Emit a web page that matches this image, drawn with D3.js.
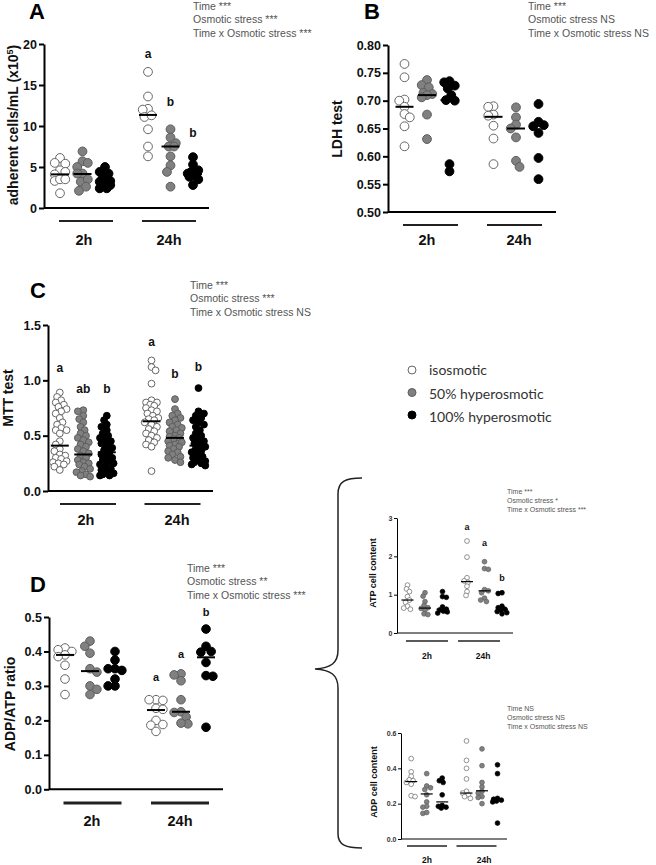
<!DOCTYPE html>
<html><head><meta charset="utf-8">
<script src="https://cdn.jsdelivr.net/npm/d3@7"></script>
<style>body{margin:0;background:#fff}svg{display:block}svg text{font-family:"Liberation Sans",Arial,sans-serif}</style>
</head><body>
<script>
// ---------- DATA ----------
const timeGroups = ["2h", "24h"];
const treatments = ["isosmotic", "50% hyperosmotic", "100% hyperosmotic"];
// columns: 2h iso, 2h 50%, 2h 100%, 24h iso, 24h 50%, 24h 100%
const adherentValues = [
  [6.1, 5.4, 5.5, 4.6, 4.4, 4.1, 3.3, 3.5, 3.5, 1.8],
  [6.9, 5.7, 5.5, 5.0, 4.2, 4.2, 3.2, 3.5, 2.1, 2.6],
  [5.0, 4.4, 4.2, 3.8, 3.3, 3.2, 2.9, 2.8, 2.4, 2.4],
  [16.6, 13.6, 12.1, 12.0, 11.1, 11.3, 9.6, 7.5, 6.3],
  [9.6, 8.6, 7.9, 7.5, 7.5, 6.3, 5.2, 4.4, 2.6],
  [6.2, 5.3, 4.6, 4.4, 4.2, 4.1, 4.0, 3.8, 3.5, 2.8]
];
const adherentMedians = [4.1, 4.15, 3.3, 11.35, 7.5, 4.15];
const adherentLetters = ["", "", "", "a", "b", "b"];
const adherentStats = ["Time ***", "Osmotic stress ***", "Time x Osmotic stress ***"];

const ldhValues = [
  [0.766, 0.742, 0.702, 0.700, 0.689, 0.676, 0.670, 0.654, 0.618],
  [0.737, 0.728, 0.724, 0.714, 0.712, 0.710, 0.706, 0.675, 0.631],
  [0.733, 0.735, 0.727, 0.722, 0.710, 0.701, 0.700, 0.586, 0.573],
  [0.690, 0.689, 0.675, 0.673, 0.655, 0.632, 0.586],
  [0.688, 0.670, 0.657, 0.650, 0.634, 0.592, 0.581],
  [0.694, 0.662, 0.656, 0.654, 0.642, 0.597, 0.559]
];
const ldhMedians = [0.689, 0.710, 0.701, 0.671, 0.650, 0.655];
const ldhLetters = ["", "", "", "", "", ""];
const ldhStats = ["Time ***", "Osmotic stress NS", "Time x Osmotic stress NS"];

const mttValues = [
  [0.89, 0.85, 0.82, 0.80, 0.78, 0.76, 0.74, 0.72, 0.70, 0.66, 0.62, 0.60, 0.57, 0.55, 0.55, 0.52, 0.45, 0.42, 0.38, 0.36, 0.33, 0.32, 0.30, 0.29, 0.27, 0.26, 0.25, 0.24, 0.22, 0.19],
  [0.73, 0.72, 0.68, 0.65, 0.62, 0.58, 0.55, 0.52, 0.50, 0.48, 0.46, 0.44, 0.42, 0.40, 0.38, 0.36, 0.34, 0.32, 0.30, 0.28, 0.26, 0.25, 0.24, 0.22, 0.20, 0.18, 0.17, 0.15, 0.14, 0.13],
  [0.68, 0.64, 0.60, 0.58, 0.55, 0.52, 0.50, 0.48, 0.46, 0.45, 0.43, 0.41, 0.39, 0.37, 0.35, 0.33, 0.31, 0.30, 0.28, 0.26, 0.25, 0.24, 0.22, 0.20, 0.19, 0.18, 0.16, 0.15, 0.14, 0.14],
  [1.18, 1.12, 1.09, 0.97, 0.82, 0.80, 0.80, 0.78, 0.77, 0.75, 0.73, 0.72, 0.70, 0.68, 0.66, 0.65, 0.64, 0.62, 0.60, 0.58, 0.56, 0.54, 0.52, 0.50, 0.48, 0.46, 0.44, 0.42, 0.40, 0.18],
  [0.83, 0.74, 0.70, 0.68, 0.66, 0.64, 0.62, 0.60, 0.58, 0.57, 0.55, 0.54, 0.52, 0.50, 0.49, 0.48, 0.47, 0.45, 0.44, 0.42, 0.41, 0.40, 0.38, 0.36, 0.35, 0.33, 0.31, 0.30, 0.28, 0.26],
  [0.93, 0.72, 0.70, 0.68, 0.66, 0.64, 0.62, 0.60, 0.58, 0.55, 0.52, 0.50, 0.48, 0.46, 0.45, 0.43, 0.41, 0.40, 0.38, 0.36, 0.35, 0.33, 0.31, 0.30, 0.28, 0.27, 0.26, 0.25, 0.24, 0.23]
];
const mttMedians = [0.41, 0.33, 0.35, 0.63, 0.48, 0.41];
const mttLetters = ["a", "ab", "b", "a", "b", "b"];
const mttStats = ["Time ***", "Osmotic stress ***", "Time x Osmotic stress NS"];

const ratioValues = [
  [0.41, 0.40, 0.405, 0.39, 0.385, 0.36, 0.32, 0.275],
  [0.43, 0.415, 0.395, 0.35, 0.34, 0.30, 0.29, 0.275],
  [0.40, 0.375, 0.35, 0.35, 0.345, 0.32, 0.30, 0.30],
  [0.26, 0.26, 0.258, 0.235, 0.232, 0.20, 0.188, 0.186, 0.168],
  [0.335, 0.332, 0.315, 0.26, 0.225, 0.223, 0.21, 0.19, 0.192],
  [0.465, 0.415, 0.40, 0.398, 0.368, 0.33, 0.328, 0.18]
];
const ratioMedians = [0.39, 0.343, 0.35, 0.23, 0.225, 0.383];
const ratioLetters = ["", "", "", "a", "a", "b"];
const ratioStats = ["Time ***", "Osmotic stress **", "Time x Osmotic stress ***"];

const atpValues = [
  [1.25, 1.15, 1.08, 0.95, 0.86, 0.80, 0.70, 0.65, 0.62],
  [1.05, 0.96, 0.82, 0.72, 0.66, 0.64, 0.60, 0.50, 0.48],
  [1.08, 0.95, 0.93, 0.68, 0.62, 0.60, 0.57, 0.55, 0.52],
  [2.40, 1.98, 1.44, 1.36, 1.32, 1.22, 1.08, 0.98],
  [1.86, 1.68, 1.66, 1.13, 1.10, 1.05, 0.91, 0.86, 0.82],
  [1.05, 1.03, 0.70, 0.66, 0.62, 0.60, 0.56, 0.53, 0.50]
];
const atpMedians = [0.86, 0.65, 0.62, 1.34, 1.10, 0.62];
const atpLetters = ["", "", "", "a", "a", "b"];
const atpStats = ["Time ***", "Osmotic stress *", "Time x Osmotic stress ***"];

const adpValues = [
  [0.455, 0.38, 0.355, 0.335, 0.33, 0.32, 0.31, 0.245, 0.24],
  [0.37, 0.30, 0.29, 0.28, 0.25, 0.21, 0.185, 0.18, 0.145, 0.15],
  [0.345, 0.33, 0.32, 0.25, 0.19, 0.185, 0.18, 0.175],
  [0.555, 0.445, 0.40, 0.34, 0.27, 0.26, 0.25, 0.24, 0.23],
  [0.51, 0.415, 0.32, 0.295, 0.27, 0.26, 0.24, 0.235, 0.20],
  [0.42, 0.37, 0.23, 0.225, 0.22, 0.215, 0.21, 0.09]
];
const adpMedians = [0.325, 0.255, 0.21, 0.26, 0.273, 0.22];
const adpLetters = ["", "", "", "", "", ""];
const adpStats = ["Time NS", "Osmotic stress NS", "Time x Osmotic stress NS"];

// ---------- DRAWING ----------
const FONT = "'Liberation Sans', Arial, sans-serif";
const svg = d3.select("body").append("svg").attr("width", 656).attr("height", 865);

const fills = ["#ffffff", "#808080", "#000000"];
const strokes = ["#666666", "#5e5e5e", "#000000"];

function swarm(vals, y, r, maxHalf, minDist) {
  const order = d3.range(vals.length).sort((a, b) => vals[b] - vals[a]);
  const placed = [];
  const off = new Array(vals.length).fill(0);
  const step = Math.max(0.5, r * 0.4);
  order.forEach((i, n) => {
    const yy = y(vals[i]);
    const sgn = n % 2 ? -1 : 1;
    let best = 0, bestD = -1;
    search: for (let k = 0; k * step <= maxHalf; k++) {
      const cands = k === 0 ? [0] : [sgn * k * step, -sgn * k * step];
      for (const dx of cands) {
        let m = Infinity;
        for (const p of placed) { const dd = Math.hypot(p[0] - dx, p[1] - yy); if (dd < m) m = dd; }
        if (m >= minDist) { best = dx; bestD = m; break search; }
        if (m > bestD) { bestD = m; best = dx; }
      }
    }
    off[i] = best; placed.push([best, yy]);
  });
  return off;
}

function txt(sel) { return sel.attr("font-family", FONT).style("font-family", FONT); }

function drawPanel(c) {
  const g = svg.append("g");
  const y = d3.scaleLinear().domain(c.domain).range(c.yRange);
  const xg = d3.scalePoint().domain(timeGroups).range(c.groupRange);
  const xl = d3.scalePoint().domain(timeGroups).range(c.lineRange);
  const xt = d3.scalePoint().domain(timeGroups).range(c.labelRange);

  const axis = d3.axisLeft(y).tickValues(c.ticks).tickFormat(d3.format(c.fmt))
    .tickSize(c.tickSize).tickSizeOuter(0).tickPadding(c.tickPad);
  const ag = g.append("g").attr("transform", `translate(${c.axisX},0)`).call(axis);
  ag.attr("font-family", FONT);
  ag.select(".domain").attr("stroke", "#000").attr("stroke-width", c.axisW);
  ag.selectAll(".tick line").attr("stroke", "#000").attr("stroke-width", c.axisW);
  txt(ag.selectAll(".tick text")).attr("fill", c.tickColor || "#111").style("font-weight", "bold")
    .style("font-size", c.tickFont + "px");

  g.append("line").attr("x1", c.axisX).attr("x2", c.xEnd)
    .attr("y1", y(c.domain[0])).attr("y2", y(c.domain[0]))
    .attr("stroke", "#000").attr("stroke-width", c.axisW);

  c.values.forEach((vals, ci) => {
    const gi = Math.floor(ci / 3), t = ci % 3;
    const cx = xg(timeGroups[gi]) + (t - 1) * c.colSpacing;
    const offs = swarm(vals, y, c.r, c.maxHalf, c.r * 2 * c.overlap);
    g.append("g").selectAll("circle").data(vals).join("circle")
      .attr("cx", (d, i) => cx + offs[i]).attr("cy", d => y(d)).attr("r", c.r)
      .attr("fill", fills[t]).attr("stroke", strokes[t]).attr("stroke-width", c.ptStroke);
    g.append("line").attr("x1", cx - c.medianHalf).attr("x2", cx + c.medianHalf)
      .attr("y1", y(c.medians[ci])).attr("y2", y(c.medians[ci]))
      .attr("stroke", "#000").attr("stroke-width", c.medianW);
    if (c.letters[ci]) {
      txt(g.append("text")).attr("x", cx).attr("y", y(c.letterAt[ci])).attr("dy", "0.3em")
        .attr("text-anchor", "middle").style("font-weight", "bold")
        .style("font-size", c.letterFont + "px").attr("fill", "#111").text(c.letters[ci]);
    }
  });

  timeGroups.forEach(gname => {
    g.append("line").attr("x1", xl(gname) - c.lineHalf).attr("x2", xl(gname) + c.lineHalf)
      .attr("y1", c.lineY).attr("y2", c.lineY).attr("stroke", "#222").attr("stroke-width", c.lineW);
    txt(g.append("text")).attr("x", xt(gname)).attr("y", c.labelY).attr("text-anchor", "middle")
      .style("font-weight", "bold").style("font-size", c.labelFont + "px").attr("fill", "#111").text(gname);
  });

  c.stats.forEach((s, i) => {
    txt(g.append("text")).attr("x", c.annX).attr("y", c.annY + i * c.annStep)
      .style("font-size", c.annFont + "px").attr("fill", "#555").text(s);
  });

  if (c.panelLabel) {
    txt(g.append("text")).attr("x", c.plX).attr("y", c.plY).style("font-weight", "bold")
      .style("font-size", "22px").attr("fill", "#000").text(c.panelLabel);
  }

  const yl = txt(g.append("text")).attr("transform", `translate(${c.ylX},${c.ylY}) rotate(-90)`)
    .attr("text-anchor", "middle").style("font-weight", "bold")
    .style("font-size", c.ylFont + "px").attr("fill", "#111");
  yl.append("tspan").text(c.ylabel);
  if (c.ylSup) {
    yl.append("tspan").attr("baseline-shift", "super").style("font-size", (c.ylFont * 0.65) + "px").text(c.ylSup);
    yl.append("tspan").text(c.ylTail);
  }
}

const big = { tickSize: 5, tickPad: 2, axisW: 2, tickFont: 12.5, labelFont: 14.5, letterFont: 12,
  annFont: 10.5, annStep: 13.4, ptStroke: 1, medianW: 2, overlap: 0.8, ylFont: 14 };

drawPanel(Object.assign({}, big, {
  values: adherentValues, medians: adherentMedians, letters: adherentLetters, stats: adherentStats,
  letterAt: [0, 0, 0, 18.7, 12.9, 9.1],
  domain: [0, 20], yRange: [208, 44], ticks: [0, 5, 10, 15, 20], fmt: "d",
  axisX: 44, xEnd: 209, groupRange: [82.5, 170.5], colSpacing: 22.5, r: 4.4, maxHalf: 7, medianHalf: 9,
  lineRange: [86, 169], labelRange: [84, 169], lineHalf: 27, lineY: 221, lineW: 2, labelY: 245,
  annX: 193, annY: 10, panelLabel: "A", plX: 29, plY: 19,
  ylabel: "adherent cells/mL (x10", ylSup: "5", ylTail: ")", ylX: 18, ylY: 125
}));

drawPanel(Object.assign({}, big, {
  values: ldhValues, medians: ldhMedians, letters: ldhLetters, stats: ldhStats, letterAt: [],
  domain: [0.5, 0.8], yRange: [212, 45], ticks: [0.5, 0.55, 0.6, 0.65, 0.7, 0.75, 0.8], fmt: ".2f",
  axisX: 388, xEnd: 556, groupRange: [427, 516], colSpacing: 22.5, r: 4.4, maxHalf: 7, medianHalf: 9,
  lineRange: [430.5, 514.5], labelRange: [427, 519], lineHalf: 27.5, lineY: 225, lineW: 2, labelY: 245,
  annX: 528, annY: 10, panelLabel: "B", plX: 364, plY: 19,
  ylabel: "LDH test", ylX: 342, ylY: 129
}));

drawPanel(Object.assign({}, big, {
  values: mttValues, medians: mttMedians, letters: mttLetters, stats: mttStats,
  letterAt: [1.11, 0.92, 0.92, 1.34, 1.05, 1.12],
  domain: [0, 1.5], yRange: [491, 325], ticks: [0, 0.5, 1.0, 1.5], fmt: ".1f",
  axisX: 48, xEnd: 213, groupRange: [83.3, 175], colSpacing: 23.5, r: 3.4, maxHalf: 8, medianHalf: 9,
  overlap: 0.7,
  lineRange: [88, 172.5], labelRange: [86, 177], lineHalf: 28, lineY: 504, lineW: 2, labelY: 525,
  annX: 190, annY: 289, panelLabel: "C", plX: 30, plY: 298,
  ylabel: "MTT test", ylX: 13, ylY: 398
}));

drawPanel(Object.assign({}, big, {
  values: ratioValues, medians: ratioMedians, letters: ratioLetters, stats: ratioStats,
  letterAt: [0, 0, 0, 0.324, 0.39, 0.513], letterFont: 11,
  domain: [0, 0.5], yRange: [789.3, 617], ticks: [0, 0.1, 0.2, 0.3, 0.4, 0.5], fmt: ".1f",
  axisX: 49, xEnd: 223, groupRange: [90, 181], colSpacing: 25, r: 4.3, maxHalf: 9, medianHalf: 9,
  lineRange: [92.5, 180], labelRange: [92, 180], lineHalf: 29, lineY: 803, lineW: 3, labelY: 826,
  annX: 187, annY: 572, panelLabel: "D", plX: 30, plY: 592,
  ylabel: "ADP/ATP ratio", ylX: 15, ylY: 704
}));

const small = { tickSize: 3, tickPad: 1.5, axisW: 1, tickFont: 7, labelFont: 8.5, letterFont: 9,
  annFont: 7, annStep: 9, ptStroke: 0.7, medianW: 1.2, overlap: 0.8, ylFont: 9, tickColor: "#333" };

drawPanel(Object.assign({}, small, {
  values: atpValues, medians: atpMedians, letters: atpLetters, stats: atpStats,
  letterAt: [0, 0, 0, 2.75, 2.34, 1.43],
  domain: [0, 3], yRange: [633, 518], ticks: [0, 1, 2, 3], fmt: "d",
  axisX: 397, xEnd: 513, groupRange: [425, 484.5], colSpacing: 17.5, r: 2.4, maxHalf: 5, medianHalf: 6,
  lineRange: [427, 479], labelRange: [427, 483], lineHalf: 21, lineY: 641, lineW: 1.5, labelY: 659,
  annX: 507, annY: 494,
  ylabel: "ATP cell content", ylX: 376, ylY: 573
}));

drawPanel(Object.assign({}, small, {
  values: adpValues, medians: adpMedians, letters: adpLetters, stats: adpStats, letterAt: [],
  domain: [0, 0.6], yRange: [839, 733], ticks: [0, 0.2, 0.4, 0.6], fmt: ".1f",
  axisX: 401, xEnd: 507, groupRange: [426.7, 482], colSpacing: 15.5, r: 2.4, maxHalf: 5, medianHalf: 6,
  lineRange: [427, 476.5], labelRange: [427, 484], lineHalf: 20, lineY: 846, lineW: 1.5, labelY: 863,
  annX: 507, annY: 711,
  ylabel: "ADP cell content", ylX: 377, ylY: 782
}));

// legend
const lg = svg.append("g");
treatments.forEach((t, i) => {
  lg.append("circle").attr("cx", 412).attr("cy", 370 + i * 22.5).attr("r", 4)
    .attr("fill", fills[i]).attr("stroke", strokes[i]).attr("stroke-width", 1);
  lg.append("text").attr("x", 429).attr("y", 375 + i * 23.5)
    .attr("font-family", "Lato, 'Open Sans', sans-serif")
    .style("font-family", "Lato, 'Open Sans', sans-serif").style("font-size", "14px")
    .attr("fill", "#333").text(t);
});

// brace
svg.append("path")
  .attr("d", "M362,478 C346,478 338,481 338,494 L338,650 C338,663 331,668 315,669 C331,670 338,675 338,688 L338,834 C338,845 346,848 362,848")
  .attr("fill", "none").attr("stroke", "#222").attr("stroke-width", 1.5);
</script>
</body></html>
